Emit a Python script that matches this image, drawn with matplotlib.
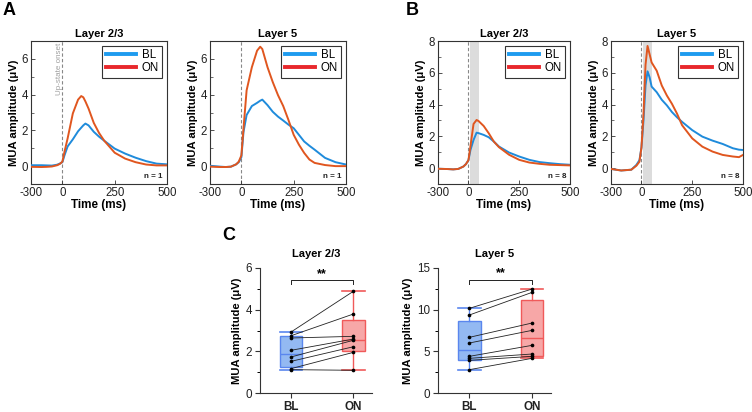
import numpy as np
import matplotlib
matplotlib.use("Agg")
import matplotlib.pyplot as plt
from matplotlib.lines import Line2D

plt.rcParams['font.family'] = ['Liberation Sans', 'DejaVu Sans']
plt.rcParams['axes.linewidth'] = 0.8

# ---------------- data ----------------
# Panel A, Layer 2/3 (n = 1)
tA1 = [-300, -200, -150, -100, -50, -25, 0, 10, 25, 50, 75, 90, 100, 110, 125, 150, 175, 200, 250, 300, 350, 400, 450, 500]
A1_BL = [0.05, 0.05, 0.04, 0.03, 0.08, 0.14, 0.22, 0.6, 1.1, 1.5, 1.95, 2.15, 2.28, 2.38, 2.28, 1.92, 1.65, 1.42, 0.98, 0.7, 0.47, 0.28, 0.14, 0.1]
A1_ON = [-0.04, -0.05, -0.04, -0.02, 0.05, 0.12, 0.25, 0.8, 1.55, 2.95, 3.72, 3.92, 3.85, 3.62, 3.22, 2.42, 1.86, 1.42, 0.75, 0.42, 0.22, 0.09, 0.04, 0.04]

# Panel A, Layer 5 (n = 1)
tA2 = [-300, -200, -150, -100, -50, -25, 0, 10, 25, 50, 75, 90, 100, 125, 150, 175, 200, 225, 250, 275, 300, 325, 350, 400, 450, 500]
A2_BL = [0.02, -0.03, -0.05, -0.03, 0.1, 0.22, 0.5, 1.9, 2.86, 3.36, 3.54, 3.66, 3.72, 3.41, 3.04, 2.77, 2.55, 2.32, 2.12, 1.75, 1.38, 1.14, 0.92, 0.46, 0.22, 0.09]
A2_ON = [-0.03, -0.05, -0.05, -0.03, 0.1, 0.25, 0.6, 2.1, 4.24, 5.53, 6.46, 6.68, 6.55, 5.53, 4.7, 3.97, 3.36, 2.58, 1.75, 1.2, 0.74, 0.37, 0.18, 0.06, 0.0, 0.0]

# Panel B, Layer 2/3 (n = 8)
tB1 = [-300, -200, -150, -100, -50, -25, 0, 10, 25, 40, 50, 75, 100, 125, 150, 200, 250, 300, 350, 400, 450, 500]
B1_BL = [-0.04, -0.06, -0.08, -0.05, 0.1, 0.25, 0.5, 1.15, 1.77, 2.23, 2.2, 2.09, 1.94, 1.67, 1.36, 0.98, 0.73, 0.52, 0.38, 0.31, 0.25, 0.21]
B1_ON = [-0.04, -0.06, -0.08, -0.05, 0.1, 0.25, 0.5, 1.4, 2.78, 3.03, 2.96, 2.65, 2.19, 1.67, 1.32, 0.84, 0.52, 0.35, 0.27, 0.21, 0.19, 0.17]

# Panel B, Layer 5 (n = 8)
tB2 = [-300, -200, -100, -50, -20, 0, 10, 20, 30, 40, 50, 75, 100, 125, 150, 175, 200, 250, 300, 350, 400, 450, 480, 500]
B2_BL = [-0.05, -0.15, -0.1, 0.2, 0.5, 1.3, 3.0, 5.2, 6.09, 5.72, 5.13, 4.78, 4.3, 3.95, 3.53, 3.2, 2.91, 2.39, 1.98, 1.73, 1.52, 1.25, 1.16, 1.14]
B2_ON = [-0.05, -0.15, -0.1, 0.15, 0.4, 1.3, 3.4, 6.5, 7.69, 7.17, 6.65, 6.13, 5.2, 4.57, 4.05, 3.43, 2.7, 1.87, 1.35, 1.04, 0.83, 0.73, 0.69, 0.83]

# Panel C, paired values (8 animals)
C1_BL = [2.93, 2.75, 2.64, 2.05, 1.73, 1.52, 1.17, 1.12]
C1_ON = [4.88, 3.79, 2.72, 2.59, 2.53, 2.22, 1.95, 1.09]
C2_BL = [10.16, 9.36, 6.68, 6.0, 4.4, 4.16, 3.92, 2.8]
C2_ON = [12.48, 12.08, 8.4, 7.52, 5.72, 4.68, 4.4, 4.16]

cond_labels = ["BL", "ON"]
time_ticks = [-300, 0, 250, 500]

# ---------------- style ----------------
C_BL = '#1F8BDB'
C_ON = '#E0561F'
LEG_BL = '#1E9BEF'
LEG_ON = '#E8282C'
SPINE = '#333333'

fig = plt.figure(figsize=(7.52, 4.12), dpi=100)
W, H = 752.0, 412.0


def ax_px(l, r, t, b):
    return fig.add_axes([l / W, 1 - b / H, (r - l) / W, (b - t) / H])


def fwd(t):
    t = np.asarray(t, dtype=float)
    return np.where(t >= 0, t, t / 2.0)


def inv(u):
    u = np.asarray(u, dtype=float)
    return np.where(u >= 0, u, u * 2.0)


def trace_panel(ax, t, bl, on, ylim, yticks, title, ntext, shade=False, onset_text=False):
    ax.set_xscale('function', functions=(fwd, inv))
    if shade:
        ax.axvspan(10, 50, color='#DCDCDC', lw=0, zorder=0)
    ax.axvline(0, color='#888888', ls=(0, (3, 2)), lw=0.8, zorder=1)
    ax.plot(t, bl, color=C_BL, lw=1.4, zorder=3)
    ax.plot(t, on, color=C_ON, lw=1.4, zorder=4)
    ax.set_xlim(-300, 500)
    ax.set_ylim(*ylim)
    ax.set_xticks(time_ticks)
    ax.set_xticklabels([str(v) for v in time_ticks])
    ax.set_yticks(yticks)
    ax.set_yticks(np.arange(ylim[0], ylim[1] + 0.01, 1), minor=True)
    ax.tick_params(axis='both', direction='in', labelsize=8.3, length=3, width=0.6,
                   colors=SPINE, labelcolor='#222222', pad=2)
    ax.tick_params(axis='y', which='minor', direction='in', length=1.8, width=0.5, colors=SPINE)
    ax.tick_params(axis='x', which='minor', length=0)
    for s in ax.spines.values():
        s.set_color(SPINE)
        s.set_linewidth(0.8)
    ax.set_title(title, fontsize=8, fontweight='bold', pad=3)
    ax.set_xlabel('Time (ms)', fontsize=8.4, fontweight='bold', labelpad=0)
    ax.set_ylabel('MUA amplitude (μV)', fontsize=8.1, fontweight='bold', labelpad=2)
    ax.text(0.97, 0.03, ntext, transform=ax.transAxes, ha='right', va='bottom',
            fontsize=5.8, fontweight='bold', color='#222222')
    handles = [Line2D([0], [0], color=LEG_BL, lw=2.8), Line2D([0], [0], color=LEG_ON, lw=2.8)]
    leg = ax.legend(handles, cond_labels, loc='upper right', fontsize=8.3, handlelength=2.6,
                    handletextpad=0.5, borderpad=0.3, labelspacing=0.1, fancybox=False,
                    framealpha=1, edgecolor=SPINE, borderaxespad=0.4)
    leg.get_frame().set_linewidth(0.8)
    if onset_text:
        ax.text(-28, ylim[1] - 0.1, 'Up-state onset', rotation=90, ha='center', va='top',
                fontsize=5.8, color='#A0A0A0')


axA1 = ax_px(31, 167, 41, 184)
trace_panel(axA1, tA1, A1_BL, A1_ON, (-1, 7), [0, 2, 4, 6], 'Layer 2/3', 'n = 1', onset_text=True)
axA2 = ax_px(210, 346, 41, 184)
trace_panel(axA2, tA2, A2_BL, A2_ON, (-1, 7), [0, 2, 4, 6], 'Layer 5', 'n = 1')
axB1 = ax_px(438, 570, 41, 184)
trace_panel(axB1, tB1, B1_BL, B1_ON, (-1, 8), [0, 2, 4, 6, 8], 'Layer 2/3', 'n = 8', shade=True)
axB2 = ax_px(611, 743, 41, 184)
trace_panel(axB2, tB2, B2_BL, B2_ON, (-1, 8), [0, 2, 4, 6, 8], 'Layer 5', 'n = 8', shade=True)


def box_stats(vals):
    v = np.asarray(vals, dtype=float)
    q1, med, q3 = np.percentile(v, [25, 50, 75], method='weibull')
    return dict(med=med, q1=q1, q3=q3, whislo=v.min(), whishi=v.max(), fliers=[])


BOX_FILL = ['#93B9F2', '#F7A7A7']
BOX_EDGE = ['#5A86EE', '#F05A5A']


def paired_panel(ax, bl, on, ylim, yticks, minor_step, title, sig_y, sig_drop):
    stats = [box_stats(bl), box_stats(on)]
    for i, st in enumerate(stats):
        ax.bxp([st], positions=[i], widths=0.36, patch_artist=True, showfliers=False,
               boxprops=dict(facecolor=BOX_FILL[i], edgecolor=BOX_EDGE[i], lw=1.0),
               medianprops=dict(color=BOX_EDGE[i], lw=1.0),
               whiskerprops=dict(color=BOX_EDGE[i], lw=1.0),
               capprops=dict(color=BOX_EDGE[i], lw=1.2), capwidths=0.36)
    for a, b in zip(bl, on):
        ax.plot([0, 1], [a, b], color='#222222', lw=0.6, zorder=5)
    ax.scatter(np.zeros(len(bl)), bl, s=7, color='black', zorder=6, lw=0)
    ax.scatter(np.ones(len(on)), on, s=7, color='black', zorder=6, lw=0)
    ax.set_xlim(-0.5, 1.3)
    ax.set_ylim(ylim[0], ylim[1])
    ax.set_xticks([0, 1])
    ax.set_xticklabels(cond_labels, fontsize=8.4, fontweight='bold')
    ax.set_yticks(yticks)
    ax.set_yticks(np.arange(ylim[0], ylim[1] + 0.01, minor_step), minor=True)
    ax.tick_params(axis='both', direction='out', labelsize=8.4, length=3.5, width=0.8,
                   colors='#333333', labelcolor='#222222', pad=2)
    ax.tick_params(axis='y', which='minor', direction='out', length=2, width=0.7)
    ax.tick_params(axis='x', labelsize=8.4)
    for lab in ax.get_xticklabels():
        lab.set_fontweight('bold')
    ax.spines['top'].set_visible(False)
    ax.spines['right'].set_visible(False)
    ax.spines['left'].set_color('#333333')
    ax.spines['bottom'].set_color('#333333')
    ax.set_title(title, fontsize=8, fontweight='bold', pad=8)
    ax.set_ylabel('MUA amplitude (μV)', fontsize=8.1, fontweight='bold', labelpad=3)
    ax.plot([0, 0, 1, 1], [sig_y - sig_drop, sig_y, sig_y, sig_y - sig_drop],
            color='#222222', lw=0.7, clip_on=False)
    ax.text(0.5, sig_y, '**', ha='center', va='bottom', fontsize=9, fontweight='bold')


axC1 = ax_px(260, 372, 268, 393)
paired_panel(axC1, C1_BL, C1_ON, (0, 6), [0, 2, 4, 6], 1, 'Layer 2/3', 5.41, 0.2)
axC2 = ax_px(438, 551, 268, 393)
paired_panel(axC2, C2_BL, C2_ON, (0, 15), [0, 5, 10, 15], 2.5, 'Layer 5', 13.6, 0.5)

fig.text(3 / W, 1 - 2 / H, 'A', fontsize=13, fontweight='bold', va='top', ha='left')
fig.text(406 / W, 1 - 2 / H, 'B', fontsize=13, fontweight='bold', va='top', ha='left')
fig.text(222 / W, 1 - 227 / H, 'C', fontsize=13, fontweight='bold', va='top', ha='left')

fig.savefig('out.png', dpi=100)
